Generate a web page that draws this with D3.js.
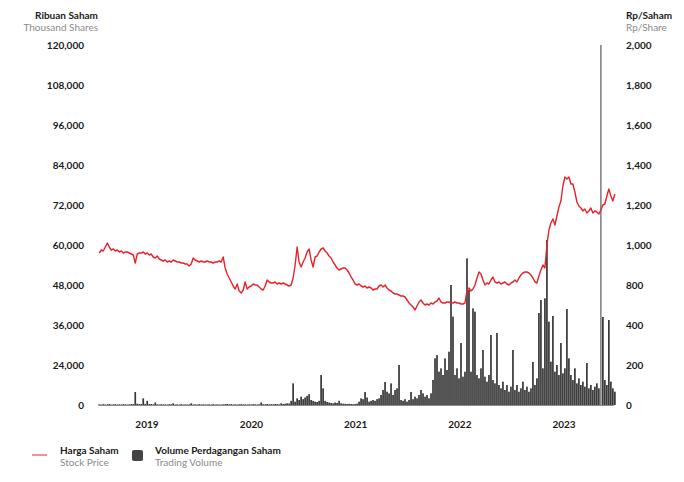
<!DOCTYPE html>
<html>
<head>
<meta charset="utf-8">
<script src="https://cdn.jsdelivr.net/npm/d3@7"></script>
<style>
  html, body { margin: 0; padding: 0; background: #fff; }
  svg { display: block; }
  text { font-family: Lato, "Open Sans", sans-serif; }
</style>
</head>
<body>
<svg id="chart" width="684" height="482"></svg>
<script>
// ---------- DATA ----------
const startDate = new Date(2019, 0, 2);   // first weekly observation
const stepDays = 7;                        // weekly observations

// Stock price (Rp/share), weekly
const priceValues = [
  960,975,970,990,1010,990,975,980,970,975,965,970,960,965,965,960,955,950,910,955,
  960,960,965,955,960,950,955,940,935,945,930,925,920,925,915,920,915,925,920,915,
  915,910,910,905,905,895,905,935,925,920,915,920,915,915,920,915,915,910,915,915,
  920,915,940,885,855,835,815,790,760,805,740,720,750,815,760,780,790,805,800,800,
  780,760,750,790,825,815,810,810,815,805,810,805,810,805,800,790,800,835,900,990,
  915,890,915,935,965,980,925,890,940,945,965,980,985,970,960,945,935,915,900,885,
  875,880,885,885,875,860,840,825,805,800,805,790,780,790,770,780,770,750,760,760,
  790,800,780,800,770,750,740,720,710,710,700,690,690,680,650,620,600,580,550,590,
  630,650,620,600,610,600,620,610,630,640,670,630,620,620,630,630,620,620,630,620,
  620,610,610,620,750,770,740,760,800,835,865,855,825,800,810,805,825,840,815,810,
  815,805,810,815,805,800,810,815,825,815,835,850,860,865,865,860,850,835,815,810,
  845,875,900,885,1000,1075,1110,1130,1100,1145,1190,1220,1295,1340,1330,1340,1305,1305,1265,1215,
  1195,1185,1170,1180,1160,1170,1185,1160,1170,1165,1155,1175,1200,1205,1245,1280,1245,1220,1255
];

// Trading volume (thousand shares), weekly
const volumeValues = [
  400,300,500,300,400,600,300,400,500,300,400,300,500,400,300,400,500,600,7800,800,
  500,600,4000,700,2500,500,600,400,1500,400,300,500,300,400,300,500,400,1000,300,400,
  300,500,300,400,300,400,1000,300,400,300,500,300,400,300,300,400,300,500,300,400,
  300,300,400,500,600,400,500,300,400,300,400,500,300,400,300,400,300,500,400,300,
  400,1500,500,400,600,400,500,400,600,500,400,1000,600,800,1000,900,2500,13000,2000,4000,
  3000,5000,3500,4500,5500,6500,3000,2500,2000,1800,2500,18000,10000,2500,1800,1500,1200,1000,1500,1200,
  2500,1000,800,700,600,700,600,500,600,800,2000,4000,3500,7800,4500,2000,2500,3000,2500,3500,
  4000,6000,9000,13800,8000,7000,13000,6000,9000,10000,24000,3000,2500,3500,2000,3000,7800,3500,5000,4000,
  6000,9000,7000,5000,6000,4000,7000,15000,26000,27000,20000,22000,18000,26000,21000,28000,48000,38500,18000,22000,
  16000,30600,17000,20000,56000,46500,20000,41000,40000,18000,16000,22000,28500,17000,14000,18000,33000,15000,13000,33600,
  12000,10000,14000,9000,12000,8000,11000,28500,9000,12000,8000,10000,14000,9000,11000,8000,10000,24900,12000,16000,
  39600,43500,22000,44000,61500,37000,25000,38700,20000,24000,18000,30600,19000,22000,40800,26000,18000,15000,22000,13000,
  16000,12000,14000,11000,24600,10000,12000,9000,11000,13000,10000,120000,38400,15000,12000,37500,14000,10000,8000
];

// Axis tick labels
const volumeTicks = [0, 24000, 36000, 48000, 60000, 72000, 84000, 96000, 108000, 120000];
const priceTicks  = [0, 200, 400, 800, 1000, 1200, 1400, 1600, 1800, 2000];
const yearLabels  = [2019, 2020, 2021, 2022, 2023];

// ---------- CHART ----------
const svg = d3.select("#chart");
const plot = { left: 99, right: 620, top: 45, bottom: 405 };
const FS = 10;

const dates = priceValues.map((_, i) => d3.timeDay.offset(startDate, i * stepDays));

const x = d3.scaleTime()
  .domain([new Date(2019, 0, 1), new Date(2023, 11, 31)])
  .range([plot.left, plot.right]);

const tickPositions = d3.quantize(d3.interpolate(plot.bottom, plot.top), volumeTicks.length);
const yVol = d3.scaleLinear().domain(volumeTicks).range(tickPositions);
const yPrice = d3.scaleLinear().domain(priceTicks).range(tickPositions);

// Volume bars
const barW = 1.7;
svg.append("g")
  .selectAll("rect")
  .data(volumeValues)
  .join("rect")
  .attr("x", (d, i) => x(dates[i]) - barW / 2)
  .attr("width", barW)
  .attr("y", d => yVol(d))
  .attr("height", d => yVol(0) - yVol(d))
  .attr("fill", d => d > 100000 ? "#8a8a8a" : "#383838");

// Baseline
svg.append("line")
  .attr("x1", x(dates[0]) - 1).attr("x2", x(dates[dates.length - 1]) - 1)
  .attr("y1", yVol(0) + 0.5).attr("y2", yVol(0) + 0.5)
  .attr("stroke", "#8c8c8c").attr("stroke-width", 1);

// Price line
const line = d3.line()
  .x((d, i) => x(dates[i]))
  .y(d => yPrice(d));
svg.append("path")
  .datum(priceValues)
  .attr("d", line)
  .attr("fill", "none")
  .attr("stroke", "#e8232b")
  .attr("stroke-width", 1.4)
  .attr("stroke-linejoin", "round");

// Left axis
const leftAxis = svg.append("g")
  .attr("transform", `translate(${plot.left - 14},0)`)
  .call(d3.axisLeft(yVol).tickValues(volumeTicks).tickSize(0).tickPadding(1)
    .tickFormat(d3.format(",")));
leftAxis.select(".domain").remove();
leftAxis.selectAll("text")
  .attr("font-family", "Lato, sans-serif")
  .attr("font-size", FS).attr("font-weight", 700).attr("fill", "#1a1a1a");

// Right axis
const rightAxis = svg.append("g")
  .attr("transform", `translate(${plot.left + 526},0)`)
  .call(d3.axisRight(yPrice).tickValues(priceTicks).tickSize(0).tickPadding(1)
    .tickFormat(d3.format(",")));
rightAxis.select(".domain").remove();
rightAxis.selectAll("text")
  .attr("font-family", "Lato, sans-serif")
  .attr("font-size", FS).attr("font-weight", 700).attr("fill", "#1a1a1a");

// X axis year labels
svg.append("g")
  .selectAll("text")
  .data(yearLabels)
  .join("text")
  .attr("x", d => x(new Date(d, 5, 18)))
  .attr("y", 428)
  .attr("text-anchor", "middle")
  .attr("font-size", FS).attr("font-weight", 700).attr("fill", "#1a1a1a")
  .text(d => d);

// Axis titles
const titles = [
  { x: 98, y: 19, anchor: "end", t: "Ribuan Saham", c: "#1a1a1a", w: 700 },
  { x: 98, y: 31, anchor: "end", t: "Thousand Shares", c: "#8a8a8a", w: 400 },
  { x: 626, y: 19, anchor: "start", t: "Rp/Saham", c: "#1a1a1a", w: 700 },
  { x: 626, y: 31, anchor: "start", t: "Rp/Share", c: "#8a8a8a", w: 400 }
];
svg.append("g").selectAll("text").data(titles).join("text")
  .attr("x", d => d.x).attr("y", d => d.y)
  .attr("text-anchor", d => d.anchor)
  .attr("font-size", FS).attr("font-weight", d => d.w).attr("fill", d => d.c)
  .text(d => d.t);

// Legend
const legend = svg.append("g");
legend.append("line")
  .attr("x1", 32).attr("x2", 47).attr("y1", 455).attr("y2", 455)
  .attr("stroke", "#e8232b").attr("stroke-width", 1);
legend.append("rect")
  .attr("x", 132).attr("y", 450).attr("width", 11).attr("height", 11)
  .attr("rx", 2).attr("fill", "#444");
const legendTexts = [
  { x: 60, y: 454, t: "Harga Saham", c: "#1a1a1a", w: 700 },
  { x: 60, y: 466, t: "Stock Price", c: "#8a8a8a", w: 400 },
  { x: 155, y: 454, t: "Volume Perdagangan Saham", c: "#1a1a1a", w: 700 },
  { x: 155, y: 466, t: "Trading Volume", c: "#8a8a8a", w: 400 }
];
legend.selectAll("text").data(legendTexts).join("text")
  .attr("x", d => d.x).attr("y", d => d.y)
  .attr("font-size", FS).attr("font-weight", d => d.w).attr("fill", d => d.c)
  .text(d => d.t);
</script>
</body>
</html>
